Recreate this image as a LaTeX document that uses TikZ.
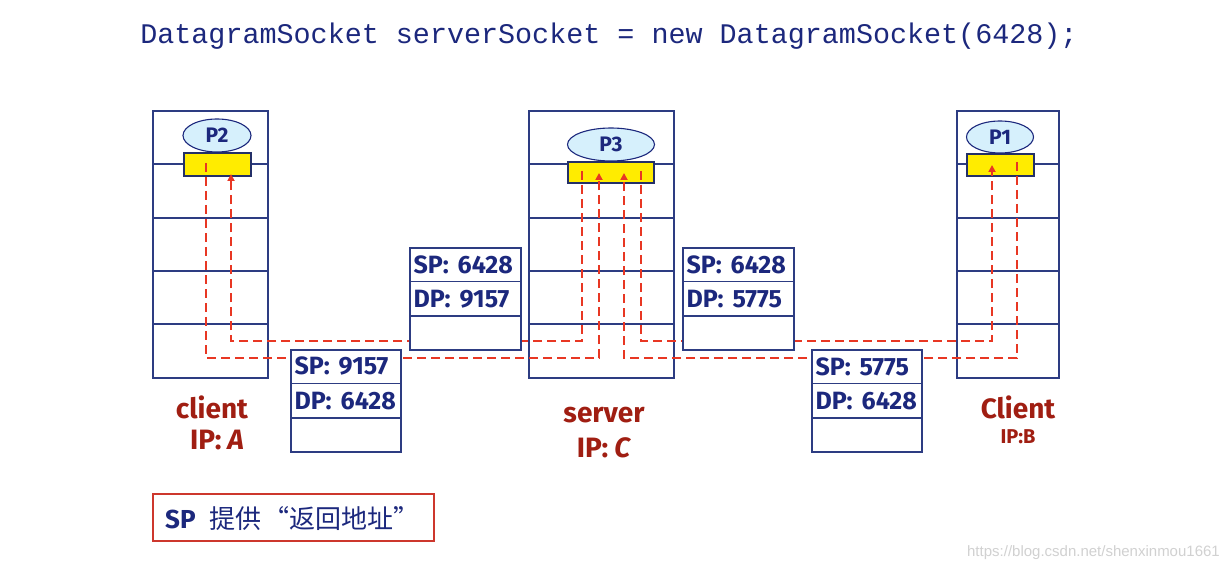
\documentclass[tikz,border=0pt]{standalone}
\usepackage{fontspec}
\setmainfont{Fira Sans}
\newfontfamily\monof{Liberation Mono}
\newfontfamily\cjkf{Noto Sans CJK SC}
\newfontfamily\wmf{Liberation Sans}
\usetikzlibrary{arrows.meta,shapes.geometric}
\definecolor{navy}{RGB}{28,40,125}
\definecolor{stackcol}{RGB}{45,60,130}
\definecolor{flowred}{RGB}{232,55,35}
\definecolor{lblred}{RGB}{160,30,18}
\definecolor{procfill}{RGB}{214,240,252}
\definecolor{sockfill}{RGB}{255,236,0}
\definecolor{boxred}{RGB}{205,55,45}
\newcommand{\pk}[2]{#1:\hspace{9pt}#2}
\tikzset{
  stackbox/.style={draw=stackcol, line width=1.3pt, fill=white, inner sep=0pt},
  layerline/.style={draw=stackcol, line width=1.3pt},
  sockbox/.style={draw=stackcol!80!black, line width=1.1pt, fill=sockfill, inner sep=0pt},
  proc/.style={ellipse, draw=navy, line width=1.1pt, fill=procfill, inner sep=0pt, font=\fontsize{21}{21}\selectfont\bfseries, text=navy},
  pkt/.style={draw=stackcol, line width=1.3pt, fill=white, inner sep=0pt, minimum width=110, minimum height=102},
  pktline/.style={draw=stackcol, line width=1.3pt},
  pkttext/.style={anchor=west, inner sep=0pt, text=navy, font=\fontsize{25}{25}\selectfont\bfseries},
  hostlbl/.style={text=lblred, inner sep=0pt, font=\fontsize{28}{28}\selectfont\bfseries},
  flow/.style={draw=flowred, line width=1.8pt, dash pattern=on 9pt off 5pt},
  flowarr/.style={flow, -{Triangle[length=7pt,width=7pt]}},
}
\begin{document}
\begin{tikzpicture}[x=1pt,y=-1pt]
\useasboundingbox (0,0) rectangle (1228,572);
\fill[white] (0,0) rectangle (1228,572);

% title
\node[inner sep=0pt, text=navy, font=\monof\fontsize{28.4}{28.4}\selectfont] (title) at (609,36) {DatagramSocket serverSocket = new DatagramSocket(6428);};

% protocol stacks
\node[stackbox, minimum width=115, minimum height=267] (stA) at (210.5,244.5) {};
\node[stackbox, minimum width=145, minimum height=267] (stC) at (601.5,244.5) {};
\node[stackbox, minimum width=102, minimum height=267] (stB) at (1008,244.5) {};
\foreach \s in {stA,stC,stB}{
  \foreach \yy in {164,218,271,324}{
    \draw[layerline] (\s.west |- 0,\yy) -- (\s.east |- 0,\yy);
  }
}

% sockets
\node[sockbox, minimum width=67, minimum height=23] (sA) at (217.5,164.5) {};
\node[sockbox, minimum width=86, minimum height=21] (sC) at (611,172.5) {};
\node[sockbox, minimum width=67, minimum height=22] (sB) at (1000.5,165) {};

% processes
\node[proc, minimum width=68, minimum height=33] (pA) at (217,135.5) {P2};
\node[proc, minimum width=87, minimum height=33] (pC) at (611,144.5) {P3};
\node[proc, minimum width=67, minimum height=32] (pB) at (1000,137) {P1};

% flow coordinates
\coordinate (a1) at (206,163);
\coordinate (a2) at (231,174);
\coordinate (c1) at (582,171);
\coordinate (c2) at (599,173);
\coordinate (c3) at (624,173);
\coordinate (c4) at (641,171);
\coordinate (b1) at (992,165);
\coordinate (b2) at (1017,162);

% flows: A -> C, C -> A, C -> B, B -> C
\draw[flowarr] (a1) -- (a1 |- 0,358) -- (c2 |- 0,358) -- (c2);
\draw[flowarr] (c1) -- (c1 |- 0,341) -- (a2 |- 0,341) -- (a2);
\draw[flowarr] (c4) -- (c4 |- 0,341) -- (b1 |- 0,341) -- (b1);
\draw[flowarr] (b2) -- (b2 |- 0,358) -- (c3 |- 0,358) -- (c3);

% packets
\node[pkt] (k1) at (346,401) {};
\node[pkt, minimum width=111] (k2) at (465.5,299) {};
\node[pkt, minimum width=111] (k3) at (738.5,299) {};
\node[pkt] (k4) at (867,401) {};
\foreach \k in {k1,k2,k3,k4}{
  \draw[pktline] ([yshift=-34pt]\k.north west) -- ([yshift=-34pt]\k.north east);
  \draw[pktline] ([yshift=-68.5pt]\k.north west) -- ([yshift=-68.5pt]\k.north east);
}
\node[pkttext] (k1a) at ([xshift=4pt,yshift=-17pt]k1.north west) {\pk{SP}{9157}};
\node[pkttext] (k1b) at ([xshift=4pt,yshift=-51.5pt]k1.north west) {\pk{DP}{6428}};
\node[pkttext] (k2a) at ([xshift=4pt,yshift=-17pt]k2.north west) {\pk{SP}{6428}};
\node[pkttext] (k2b) at ([xshift=4pt,yshift=-51.5pt]k2.north west) {\pk{DP}{9157}};
\node[pkttext] (k3a) at ([xshift=4pt,yshift=-17pt]k3.north west) {\pk{SP}{6428}};
\node[pkttext] (k3b) at ([xshift=4pt,yshift=-51.5pt]k3.north west) {\pk{DP}{5775}};
\node[pkttext] (k4a) at ([xshift=4pt,yshift=-17pt]k4.north west) {\pk{SP}{5775}};
\node[pkttext] (k4b) at ([xshift=4pt,yshift=-51.5pt]k4.north west) {\pk{DP}{6428}};

% host labels
\node[hostlbl] (lA1) at (212,407) {client};
\node[hostlbl] (lA2) at (217,440) {IP:\hspace{6pt}\textit{A}};
\node[hostlbl] (lC1) at (604,415) {server};
\node[hostlbl] (lC2) at (604,448) {IP:\hspace{6pt}\textit{C}};
\node[hostlbl] (lB1) at (1018,407) {Client};
\node[hostlbl, font=\fontsize{20}{20}\selectfont\bfseries] (lB2) at (1018,437) {IP:B};

% note box
\node[draw=boxred, line width=1.5pt, minimum width=281, minimum height=47, inner sep=0pt] (note) at (293.5,517.5) {};
\node[anchor=west, inner sep=0pt, text=navy] (notetxt) at (165,518.5) {{\fontsize{26}{26}\selectfont\bfseries SP}\hspace{14pt}{\cjkf\fontsize{26}{26}\selectfont 提供\hspace{2pt}“返回地址”}};

% watermark
\node[anchor=east, inner sep=0pt, text=black!18, font=\wmf\fontsize{15}{15}\selectfont] (wm) at (1220,553) {https://blog.csdn.net/shenxinmou1661};
\end{tikzpicture}
\end{document}
